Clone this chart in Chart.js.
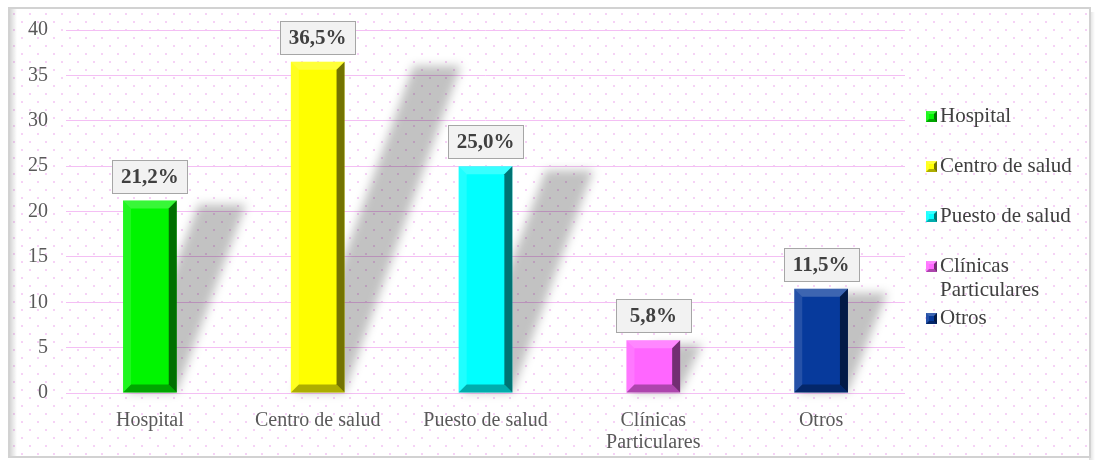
<!DOCTYPE html>
<html>
<head>
<meta charset="utf-8">
<script src="https://cdn.jsdelivr.net/npm/chart.js@4"></script>
<style>
  html, body { margin: 0; padding: 0; background: #fff; }
  #wrap { width: 1095px; height: 462px; }
</style>
</head>
<body>
<div id="wrap"><canvas id="chart" width="1095" height="462"></canvas></div>
<script>
// chart data
const categories = ['Hospital', 'Centro de salud', 'Puesto de salud', ['Clínicas', 'Particulares'], 'Otros'];
const percentages = [21.2, 36.5, 25.0, 5.8, 11.5];
const barColors = ['#00f500', '#ffff00', '#00ffff', '#ff66ff', '#073a9c'];
const yTicks = [0, 5, 10, 15, 20, 25, 30, 35, 40];

const serif = '"Liberation Serif", "Times New Roman", serif';
const gridPink = '#f4bff4';

// background, frame and dotted pattern
const backgroundPlugin = {
  id: 'background',
  beforeDraw(chart) {
    const ctx = chart.ctx;
    ctx.save();
    ctx.fillStyle = '#ffffff';
    ctx.fillRect(0, 0, chart.width, chart.height);
    // dots
    ctx.fillStyle = '#f6d2f6';
    let row = 0;
    for (let y = 13; y < 455; y += 8, row++) {
      for (let x = 13 + (row % 2) * 8; x < 1088; x += 16) {
        ctx.fillRect(x, y, 2, 2);
      }
    }
    // left inner shading
    const g = ctx.createLinearGradient(10, 0, 17, 0);
    g.addColorStop(0, 'rgba(0,0,0,0.16)');
    g.addColorStop(1, 'rgba(0,0,0,0)');
    ctx.fillStyle = g;
    ctx.fillRect(10, 9, 7, 447);
    // right outer shading
    const g2 = ctx.createLinearGradient(1089, 0, 1095, 0);
    g2.addColorStop(0, 'rgba(0,0,0,0.14)');
    g2.addColorStop(1, 'rgba(0,0,0,0)');
    ctx.fillStyle = g2;
    ctx.fillRect(1089, 12, 6, 448);
    ctx.strokeStyle = '#d2d2d2';
    ctx.lineWidth = 2;
    ctx.strokeRect(9, 8, 1081, 449);
    ctx.restore();
  }
};

// skewed soft shadows behind bars
const shadowPlugin = {
  id: 'barShadow',
  beforeDatasetsDraw(chart) {
    const ctx = chart.ctx;
    const meta = chart.getDatasetMeta(0);
    ctx.save();
    ctx.filter = 'blur(5px)';
    ctx.fillStyle = 'rgba(0,0,0,0.24)';
    meta.data.forEach(bar => {
      const p = bar.getProps(['x', 'y', 'base', 'width'], true);
      const l = p.x - p.width / 2, r = p.x + p.width / 2;
      const k = 0.34 * (p.base - p.y);
      ctx.beginPath();
      ctx.moveTo(l + 4, p.base);
      ctx.lineTo(r, p.base);
      ctx.lineTo(r + k + 4, p.y + 4);
      ctx.lineTo(l + k + 10, p.y + 4);
      ctx.closePath();
      ctx.fill();
    });
    ctx.restore();
  }
};

// bevel on bars and value boxes above them
function bevel(ctx, l, t, r, b, s) {
  const faces = [
    [[l, t], [r, t], [r - s, t + s], [l + s, t + s], 'rgba(255,255,255,0.22)'],
    [[l, t], [l + s, t + s], [l + s, b - s], [l, b], 'rgba(255,255,255,0.12)'],
    [[r, t], [r, b], [r - s, b - s], [r - s, t + s], 'rgba(0,0,0,0.55)'],
    [[l, b], [l + s, b - s], [r - s, b - s], [r, b], 'rgba(0,0,0,0.32)']
  ];
  faces.forEach(f => {
    ctx.beginPath();
    ctx.moveTo(f[0][0], f[0][1]);
    for (let i = 1; i < 4; i++) ctx.lineTo(f[i][0], f[i][1]);
    ctx.closePath();
    ctx.fillStyle = f[4];
    ctx.fill();
  });
}

const barDecorPlugin = {
  id: 'barDecor',
  afterDatasetsDraw(chart) {
    const ctx = chart.ctx;
    const meta = chart.getDatasetMeta(0);
    const values = chart.data.datasets[0].data;
    ctx.save();
    meta.data.forEach((bar, i) => {
      const p = bar.getProps(['x', 'y', 'base', 'width'], true);
      const l = p.x - p.width / 2, r = p.x + p.width / 2;
      bevel(ctx, l, p.y, r, p.base, Math.min(8, (p.base - p.y) / 2));
      // value label
      const txt = values[i].toFixed(1).replace('.', ',') + '%';
      const bw = 75, bh = 33;
      const bx = Math.round(p.x - bw / 2) + 0.5, by = Math.round(p.y - 8 - bh) + 0.5;
      ctx.fillStyle = '#f2f2f2';
      ctx.fillRect(bx, by, bw, bh);
      ctx.strokeStyle = '#a6a6a6';
      ctx.lineWidth = 1;
      ctx.strokeRect(bx, by, bw, bh);
      ctx.fillStyle = '#404040';
      ctx.font = 'bold 21px ' + serif;
      ctx.textAlign = 'center';
      ctx.textBaseline = 'middle';
      ctx.fillText(txt, p.x, by + bh / 2 + 1);
    });
    ctx.restore();
  }
};

// legend on the right
const legendPlugin = {
  id: 'sideLegend',
  afterDraw(chart, args, opts) {
    const ctx = chart.ctx;
    ctx.save();
    ctx.font = '21px ' + serif;
    ctx.textBaseline = 'middle';
    ctx.textAlign = 'left';
    chart.data.labels.forEach((lab, i) => {
      const y = opts.rows[i];
      const lines = Array.isArray(lab) ? lab : [lab];
      ctx.fillStyle = barColors[i];
      ctx.fillRect(926, y - 5, 11, 11);
      bevel(ctx, 926, y - 5, 937, y + 6, 3);
      ctx.fillStyle = '#404040';
      lines.forEach((t, j) => ctx.fillText(t, 940, y + j * 24));
    });
    ctx.restore();
  }
};

new Chart(document.getElementById('chart'), {
  type: 'bar',
  data: {
    labels: categories,
    datasets: [{
      data: percentages,
      backgroundColor: barColors,
      borderWidth: 0,
      barPercentage: 0.32,
      categoryPercentage: 1
    }]
  },
  plugins: [backgroundPlugin, shadowPlugin, barDecorPlugin, legendPlugin],
  options: {
    responsive: false,
    animation: false,
    events: [],
    layout: { padding: { left: 20, top: 30, right: 190, bottom: 0 } },
    plugins: {
      legend: { display: false },
      tooltip: { enabled: false },
      sideLegend: { rows: [116, 166, 216, 266, 318] }
    },
    scales: {
      x: {
        grid: { display: false },
        border: { display: false },
        ticks: {
          color: '#595959',
          padding: 9,
          maxRotation: 0,
          autoSkip: false,
          font: { family: serif, size: 20, lineHeight: 1.1 }
        },
        afterFit(s) { s.height = 69; }
      },
      y: {
        min: 0,
        max: 40,
        afterBuildTicks(s) { s.ticks = yTicks.map(v => ({ value: v })); },
        grid: { color: gridPink, drawTicks: false, lineWidth: 1 },
        border: { display: false },
        ticks: {
          color: '#595959',
          padding: 18,
          font: { family: serif, size: 20 }
        },
        afterFit(s) { s.width = 46; }
      }
    }
  }
});
</script>
</body>
</html>
